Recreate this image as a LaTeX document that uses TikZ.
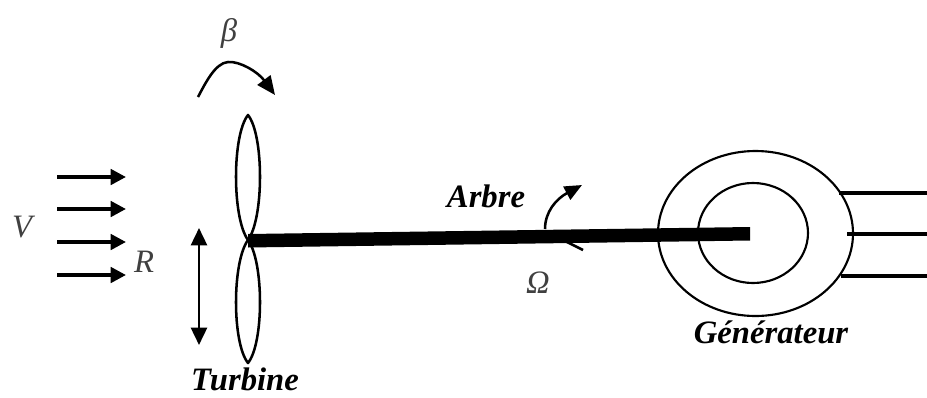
\documentclass[tikz,border=0pt]{standalone}
\usepackage{fontspec}
\setmainfont{Liberation Serif}
\usetikzlibrary{arrows.meta,shapes.geometric}
\tikzset{
  wind/.style={line width=2.7pt,-{Triangle[length=11.5pt,width=11.5pt]}},
  stroke/.style={line width=1.9pt,line join=round},
  thinring/.style={draw,ellipse,line width=1.6pt,inner sep=0pt},
  lead/.style={line width=2.8pt},
  bold label/.style={font=\fontsize{24.5}{26}\selectfont\bfseries\itshape,inner sep=0pt},
  plain label/.style={font=\fontsize{24.5}{26}\selectfont\itshape,text=black!75,inner sep=0pt}
}
\begin{document}
\begin{tikzpicture}[x=0.75pt,y=-0.75pt]
\useasboundingbox (0,0) rectangle (927,397);
% labels
\node[plain label] (beta) at (229,33) {β};
\node[plain label] (vv) at (22,227) {V};
\node[plain label] (rr) at (144,262) {R};
\node[plain label] (omega) at (538,283) {Ω};
\node[bold label] (turbine) at (245,379) {Turbine};
\node[bold label] (arbre) at (486,196) {Arbre};
\node[bold label] (gen) at (771,332) {Générateur};
% wind arrows
\foreach \n/\y in {a/177,b/209,c/242,d/275}{
  \coordinate (w\n s) at (57,\y);
  \coordinate (w\n e) at (126,\y);
  \draw[wind] (w\n s) -- (w\n e);
}
% travel arrow
\coordinate (ru) at (199,228);
\coordinate (rd) at (199,345);
\draw[line width=1.9pt,{Triangle[length=13pt,width=12pt]}-{Triangle[length=13pt,width=12pt]}] (ru) -- (rd);
% pitch arrow
\coordinate (ps) at (198,97);
\coordinate (pm) at (228,62);
\coordinate (pe) at (275,95);
\draw[stroke,-{Triangle[length=14pt,width=12pt]}] (ps) .. controls (205,84) and (215,63) .. (pm) .. controls (240,61) and (258,72) .. (pe);
% blades
\coordinate (hub) at (248,240);
\coordinate (tipu) at (248,115);
\coordinate (tipd) at (248,363);
\draw[stroke] (hub) .. controls (232,218) and (232,135) .. (tipu) .. controls (264,135) and (264,218) .. (hub);
\draw[stroke] (hub) .. controls (232,262) and (232,343) .. (tipd) .. controls (264,343) and (264,262) .. (hub);
% generator
\node[thinring,minimum width=146.25pt,minimum height=123.75pt] (outer) at (755.5,233.5) {};
\node[thinring,minimum width=82.5pt,minimum height=75pt] (inner) at (753,233) {};
% shaft
\coordinate (s1) at (248,234);
\coordinate (s2) at (750,227);
\coordinate (s3) at (750,240.5);
\coordinate (s4) at (248,247.5);
\fill[black] (s1) -- (s2) -- (s3) -- (s4) -- cycle;
% rotation arrow
\coordinate (as) at (545,229);
\coordinate (ae) at (582,185);
\draw[stroke,-{Triangle[length=13pt,width=11pt]}] (as) .. controls (545,212) and (556,199) .. (ae);
\coordinate (ts) at (563,240);
\coordinate (te) at (583,250);
\draw[stroke] (ts) -- (te);
% output lines
\coordinate (l1) at (927,193);
\coordinate (l2) at (927,234);
\coordinate (l3) at (927,276);
\coordinate (m1) at (839,193);
\coordinate (m2) at (847,234);
\coordinate (m3) at (841,276);
\draw[lead] (m1) -- (l1);
\draw[lead] (m2) -- (l2);
\draw[lead] (m3) -- (l3);
\end{tikzpicture}
\end{document}
